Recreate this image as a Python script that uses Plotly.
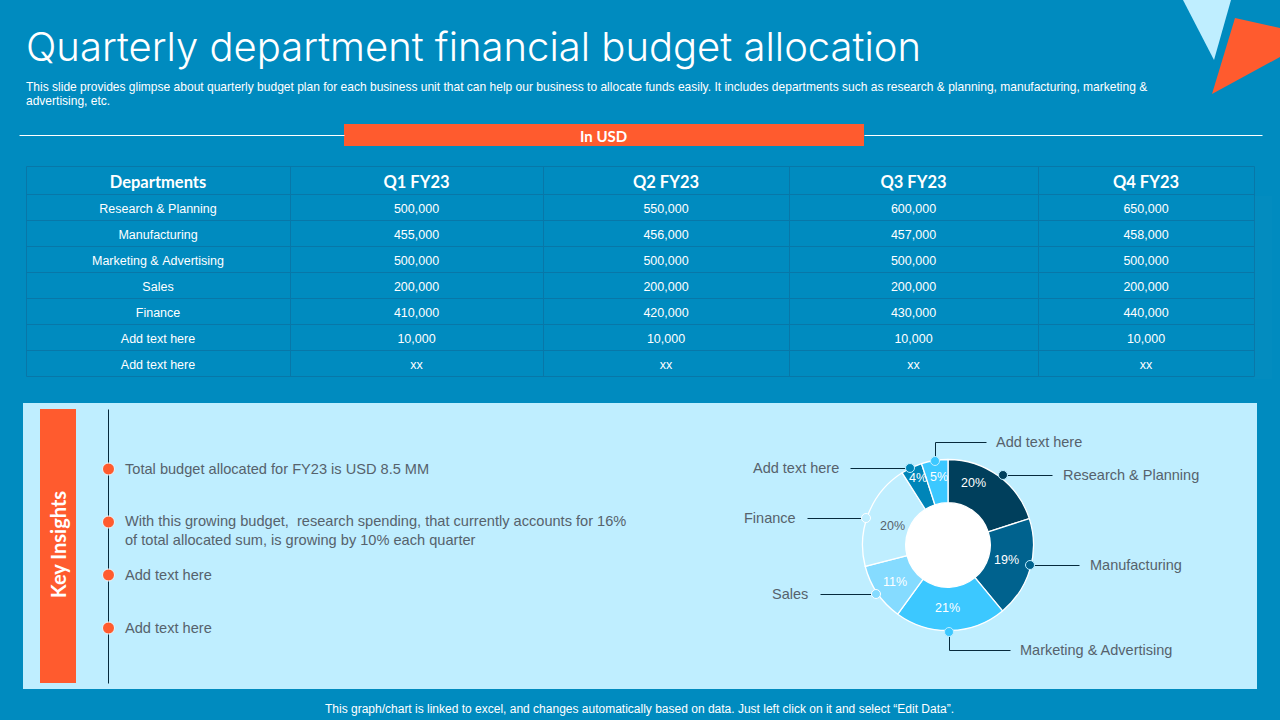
import numpy as np
import plotly.graph_objects as go

W, H = 1280, 720
BG = '#008BBF'
PANEL = '#BFEEFF'
ORANGE = '#FF5B2E'
GREY = '#56626C'
GRID = '#0877A8'
DARK = '#062A3C'
HEAD_FONT = 'Lato'
BODY_FONT = 'Liberation Sans'

# table data
columns = ['Departments', 'Q1 FY23', 'Q2 FY23', 'Q3 FY23', 'Q4 FY23']
# '&' goes in the prefix with nbsp, otherwise plotly re-measures those rows and makes them taller
dept_prefix = ['Research\u00a0&\u00a0', '', 'Marketing\u00a0&\u00a0', '', '', '', '']
dept_names = ['Planning', 'Manufacturing', 'Advertising', 'Sales', 'Finance', 'Add text here', 'Add text here']
q1 = ['500,000', '455,000', '500,000', '200,000', '410,000', '10,000', 'xx']
q2 = ['550,000', '456,000', '500,000', '200,000', '420,000', '10,000', 'xx']
q3 = ['600,000', '457,000', '500,000', '200,000', '430,000', '10,000', 'xx']
q4 = ['650,000', '458,000', '500,000', '200,000', '440,000', '10,000', 'xx']

# table grid, pixels
col_edges = [26, 290, 543, 789, 1038, 1254]
row_edges = [166, 194, 220, 246, 272, 298, 324, 350, 376]

# donut data
slices = ['Research & Planning', 'Manufacturing', 'Marketing & Advertising',
          'Sales', 'Finance', 'Add text here', 'Add text here ']
shares = [20, 19, 21, 11, 20, 4, 5]
slice_colors = ['#003F5C', '#00628E', '#3CC8FF', '#85DBFF', '#BFEEFF', '#0085B8', '#3CC8FF']
text_colors = ['white', 'white', 'white', 'white', GREY, 'white', 'white']
text_spots = [(973, 483), (1006, 560), (947, 608), (895, 582), (892, 526), (918, 478), (939, 477)]

insights = ['Total budget allocated for FY23 is USD 8.5 MM',
            'With this growing budget,  research spending, that currently accounts for 16%<br>'
            'of total allocated sum, is growing by 10% each quarter',
            'Add text here',
            'Add text here']


def px(x):
    return x / W


def py(y):
    return 1 - y / H


def rect(x0, y0, x1, y1, color):
    return dict(type='rect', xref='paper', yref='paper', x0=px(x0), x1=px(x1), y0=py(y0), y1=py(y1),
                fillcolor=color, line=dict(width=0), layer='below')


def line(x0, y0, x1, y1, color=DARK, width=1, layer='above'):
    # half pixel offset keeps 1px lines crisp
    return dict(type='line', xref='paper', yref='paper', x0=px(x0 + .5), x1=px(x1 + .5),
                y0=py(y0 + .5), y1=py(y1 + .5), line=dict(color=color, width=width), layer=layer)


def dot(x, y, r, color, edge='white', width=1, layer='above'):
    return dict(type='circle', xref='paper', yref='paper', x0=px(x - r), x1=px(x + r),
                y0=py(y - r), y1=py(y + r), fillcolor=color, line=dict(color=edge, width=width), layer=layer)


def poly(points, color):
    d = 'M ' + ' L '.join(f'{px(x)} {py(y)}' for x, y in points) + ' Z'
    return dict(type='path', xref='paper', yref='paper', path=d, fillcolor=color,
                line=dict(width=0), layer='below')


def label(x, y, text, size=14, color=GREY, anchor='left', font=BODY_FONT, weight=None, **kw):
    return dict(x=px(x), y=py(y), xref='paper', yref='paper', text=text, showarrow=False,
                xanchor=anchor, yanchor='middle', align=anchor,
                font=dict(size=size, color=color, family=font, weight=weight), **kw)


fig = go.Figure()

# table sits 2px low so its text lines up, the visible grid is drawn with shapes below
fig.add_trace(go.Table(
    domain=dict(x=[px(col_edges[0]), px(col_edges[-1])], y=[py(380), py(row_edges[0] + 2)]),
    columnwidth=list(np.diff(col_edges)),
    header=dict(values=columns, height=28, align='center',
                fill_color='rgba(0,0,0,0)', line=dict(color='rgba(0,0,0,0)', width=0),
                font=dict(size=16.5, color='white', family=HEAD_FONT, weight='bold')),
    cells=dict(values=[dept_names, q1, q2, q3, q4], height=26, align='center',
               prefix=np.array([dept_prefix] + [[''] * 7] * 4),
               fill_color='rgba(0,0,0,0)', line=dict(color='rgba(0,0,0,0)', width=0),
               font=dict(size=12.5, color='white', family=BODY_FONT)),
))

cx, cy, radius = 948, 545, 85.5
fig.add_trace(go.Pie(
    labels=slices,
    values=shares,
    sort=False,
    direction='clockwise',
    rotation=0,
    hole=0.495,
    domain=dict(x=[px(cx - radius), px(cx + radius)], y=[py(cy + radius), py(cy - radius)]),
    marker=dict(colors=slice_colors, line=dict(color='white', width=1.3)),
    textinfo='none',
    showlegend=False,
))

shapes = [
    rect(23, 403, 1257, 689, PANEL),
    dot(cx, cy, 43, 'white', 'white', 0, 'below'),
    rect(40, 409, 76, 683, ORANGE),
    rect(344, 124, 864, 146, ORANGE),
    line(19, 135, 344, 135, 'white', 1, 'below'),
    line(864, 135, 1262, 135, 'white', 1, 'below'),
    poly([(1183, 0), (1231, 0), (1214, 60)], PANEL),
    poly([(1235, 18), (1280, 28), (1280, 57), (1212, 94)], ORANGE),
    line(108, 409, 108, 683),
]
for x in col_edges:
    shapes.append(line(x, row_edges[0], x, row_edges[-1], GRID, 1, 'below'))
for y in row_edges:
    shapes.append(line(col_edges[0], y, col_edges[-1], y, GRID, 1, 'below'))
for y in [469, 522, 575, 628]:
    shapes.append(dot(108.5, y, 6, ORANGE, '#E8F8FF', 1))

# donut leader lines
shapes += [
    line(1003, 475, 1052, 475),
    line(1030, 565, 1079, 565),
    line(949, 632, 949, 650),
    line(949, 650, 1010, 650),
    line(876, 594, 820, 594),
    line(866, 518, 807, 518),
    line(910, 468, 850, 468),
    line(935, 461, 935, 442),
    line(935, 442, 986, 442),
    dot(1003, 475, 4.5, slice_colors[0], PANEL),
    dot(1030, 565, 4.5, slice_colors[1], PANEL),
    dot(949, 632, 4.5, slice_colors[2], PANEL),
    dot(876, 594, 4.5, slice_colors[3], 'white'),
    dot(866, 518, 4.5, slice_colors[4], 'white'),
    dot(910, 468, 4.5, slice_colors[5], PANEL),
    dot(935, 461, 4.5, slice_colors[6], PANEL),
]

annotations = [
    label(24, 47, 'Quarterly department financial budget allocation', 40, 'white', font='Inter', weight=300),
    label(24, 87, 'This slide provides glimpse about quarterly budget plan for each business unit that can help '
                  'our business to allocate funds easily. It includes departments such as research & planning, '
                  'manufacturing, marketing &', 12.02, 'white'),
    label(24, 101, 'advertising, etc.', 12.02, 'white'),
    label(603, 136, 'In USD', 15, 'white', 'center', HEAD_FONT, 'bold'),
    label(58, 545, 'Key Insights', 20, 'white', 'center', HEAD_FONT, 'bold', textangle=-90),
    label(123, 469, insights[0], 14.6),
    label(123, 530.5, insights[1], 14.6),
    label(123, 575, insights[2], 14.6),
    label(123, 628, insights[3], 14.6),
    label(1061, 475, slices[0], 14.5),
    label(1088, 565, slices[1], 14.5),
    label(1018, 650, slices[2], 14.5),
    label(810, 594, slices[3], 14.5, anchor='right'),
    label(798, 518, slices[4], 14.5, anchor='right'),
    label(841, 468, slices[5], 14.5, anchor='right'),
    label(994, 442, slices[6].strip(), 14.5),
    label(639, 709, 'This graph/chart is linked to excel, and changes automatically based on data. '
                    'Just left click on it and select “Edit Data”.', 12, 'white', 'center'),
]
for share, color, (x, y) in zip(shares, text_colors, text_spots):
    annotations.append(label(x, y, f'{share}%', 12.5, color, 'center'))

fig.update_layout(
    width=W,
    height=H,
    margin=dict(l=0, r=0, t=0, b=0),
    paper_bgcolor=BG,
    plot_bgcolor=BG,
    shapes=shapes,
    annotations=annotations,
)

fig.write_html('out.html', config={'displayModeBar': False},
               post_script="document.body.style.margin='0';document.body.style.background='#008BBF';")
